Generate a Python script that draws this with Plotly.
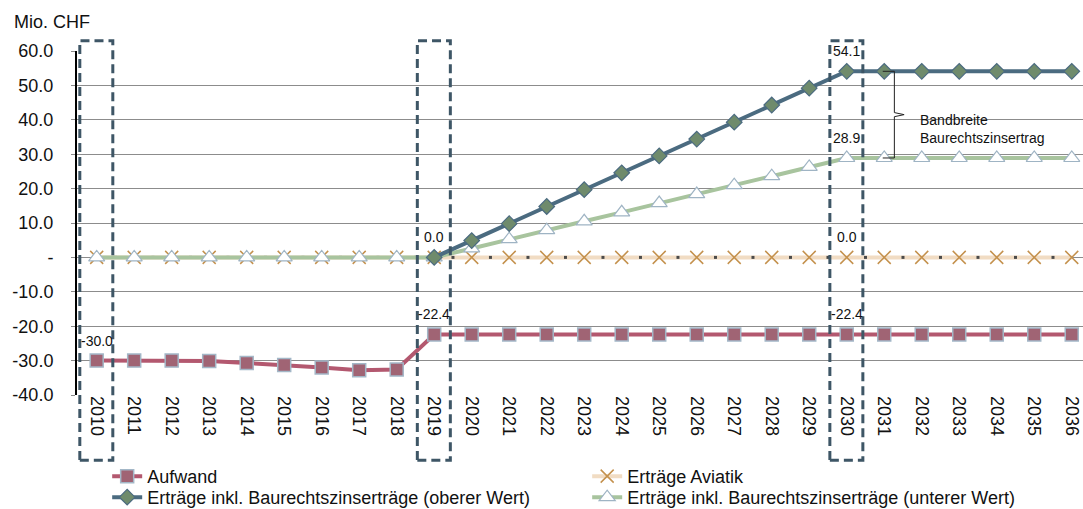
import plotly.graph_objects as go

years = list(range(2010, 2037))

aufwand = [-30.0, -30.0, -30.0, -30.1, -30.7, -31.3, -32.0, -32.8, -32.6,
           -22.4] + [-22.4] * 17
aviatik = [0.0] * 27
oberer = [None] * 9 + [0.0, 4.9, 9.8, 14.8, 19.7, 24.6, 29.5, 34.4, 39.3, 44.3,
                       49.2, 54.1] + [54.1] * 6
unterer = [0.0] * 10 + [2.6, 5.3, 7.9, 10.5, 13.1, 15.8, 18.4, 21.0, 23.6,
                        26.3, 28.9] + [28.9] * 6

y_ticks = [60, 50, 40, 30, 20, 10, 0, -10, -20, -30, -40]
y_ticktext = ["60.0", "50.0", "40.0", "30.0", "20.0", "10.0", "-",
              "-10.0", "-20.0", "-30.0", "-40.0"]

highlight_years = [2010, 2019, 2030]
labels = [  # (series, year)
    (aufwand, 2010), (aufwand, 2019), (aufwand, 2030),
    (aviatik, 2019), (aviatik, 2030),
    (oberer, 2030), (unterer, 2030),
]

FONT = "Liberation Sans, Arial, sans-serif"

fig = go.Figure()

fig.add_trace(go.Scatter(
    x=years, y=aufwand, name="Aufwand", mode="lines+markers",
    line=dict(color="#b3586f", width=4),
    marker=dict(symbol="square", size=13, color="#a06474",
                line=dict(color="#a3b7c7", width=1.5)),
    legend="legend"))

fig.add_trace(go.Scatter(
    x=years, y=aviatik, name="Erträge Aviatik", mode="lines+markers",
    line=dict(color="#f1dcc3", width=4),
    marker=dict(symbol="x-thin", size=13, line=dict(color="#c4914d", width=1.5)),
    legend="legend"))

# dotted zero axis between categories
fig.add_trace(go.Scatter(
    x=[y + 0.5 for y in years[:-1]], y=[0] * (len(years) - 1), mode="markers",
    marker=dict(symbol="square", size=3, color="#4a4a4a"),
    showlegend=False, hoverinfo="skip"))

fig.add_trace(go.Scatter(
    x=years, y=unterer, name="Erträge inkl. Baurechtszinserträge (unterer Wert)",
    mode="lines+markers",
    line=dict(color="#a8c49e", width=4),
    marker=dict(symbol="triangle-up", size=14, color="white",
                line=dict(color="#9fb4c4", width=1.2)),
    legend="legend2", legendrank=2))

fig.add_trace(go.Scatter(
    x=years, y=oberer, name="Erträge inkl. Baurechtszinserträge (oberer Wert)",
    mode="lines+markers",
    line=dict(color="#4b6b80", width=4),
    marker=dict(symbol="diamond", size=12, color="#6f8b6c",
                line=dict(color="#4b6b80", width=1.2)),
    legend="legend2", legendrank=1))

shapes = []
for yr in highlight_years:
    shapes.append(dict(type="rect", xref="x", yref="paper",
                       x0=yr - 0.45, x1=yr + 0.43, y0=-0.19, y1=1.03,
                       line=dict(color="#3e5666", width=3, dash="9px,5px")))

# brace for Bandbreite
top, bot = oberer[20], unterer[20]
mid = (top + bot) / 2
shapes.append(dict(
    type="path", xref="x", yref="y",
    path=(f"M 2030.96 {top} L 2031.27 {top} L 2031.27 {mid + 0.6} "
          f"L 2031.53 {mid} L 2031.27 {mid - 0.6} L 2031.27 {bot} L 2030.96 {bot}"),
    line=dict(color="#222", width=1)))

annotations = []
for series, yr in labels:
    v = series[years.index(yr)]
    annotations.append(dict(x=yr, y=v, xref="x", yref="y", text=f"{v:.1f}",
                            showarrow=False, yshift=20,
                            font=dict(family=FONT, size=14, color="#111")))

annotations.append(dict(x=2031.9, y=37.2, xref="x", yref="y", xanchor="left",
                        text="Bandbreite<br>Baurechtszinsertrag", align="left",
                        showarrow=False,
                        font=dict(family=FONT, size=14, color="#111")))
annotations.append(dict(x=-0.0646, y=1.084, xref="paper", yref="paper",
                        text="Mio. CHF", showarrow=False,
                        xanchor="left", yanchor="middle",
                        font=dict(family=FONT, size=18, color="#111")))

legend_style = dict(orientation="h", x=0.03, xanchor="left", yanchor="top",
                    entrywidth=435, entrywidthmode="pixels",
                    font=dict(family=FONT, size=18, color="#111"),
                    traceorder="normal", bgcolor="rgba(0,0,0,0)")

fig.update_layout(
    width=1083, height=509,
    margin=dict(l=77, r=0, t=51, b=114, autoexpand=False),
    plot_bgcolor="white", paper_bgcolor="white",
    font=dict(family=FONT, size=18, color="#111"),
    shapes=shapes, annotations=annotations,
    showlegend=True,
    legend=dict(legend_style, y=-0.183),
    legend2=dict(legend_style, y=-0.244),
    xaxis=dict(range=[2009.475, 2036.30], tickvals=years,
               ticktext=[str(y) for y in years], tickangle=90,
               showgrid=False, zeroline=False, showline=False, ticks="",
               automargin=False),
    yaxis=dict(range=[-40, 60], tickvals=y_ticks, ticktext=y_ticktext,
               showgrid=True, gridcolor="#8c8c8c", gridwidth=1,
               zeroline=False, showline=True, linecolor="black", linewidth=2,
               ticks="outside", ticklen=4, tickcolor="#8c8c8c",
               ticklabelstandoff=14, automargin=False),
)

fig.write_html("out.html", config={"displayModeBar": False},
               post_script="document.body.style.margin='0';")
